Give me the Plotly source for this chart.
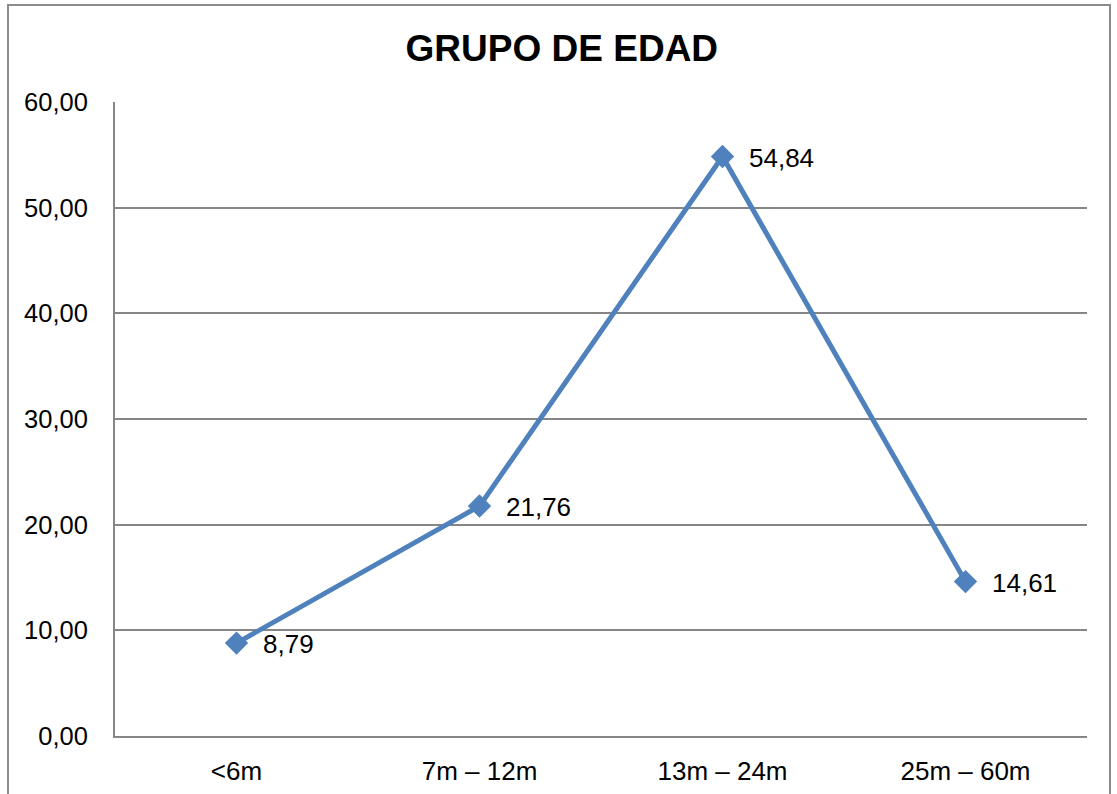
import plotly.graph_objects as go

categories = ["<6m", "7m – 12m", "13m – 24m", "25m – 60m"]
values = [8.79, 21.76, 54.84, 14.61]
labels = ["8,79", "21,76", "54,84", "14,61"]

W, H = 1117, 794
L, R, T, B = 115, 30, 102, 58
pw = W - L - R
ph = H - T - B

FONT = "Liberation Sans, Arial"

fig = go.Figure()
fig.add_trace(go.Scatter(
    x=categories, y=values, mode="lines+markers",
    line=dict(color="#4F81BD", width=5),
    marker=dict(symbol="diamond", size=18, color="#4F81BD"),
    showlegend=False, hoverinfo="skip",
))
for c, v, t in zip(categories, values, labels):
    fig.add_annotation(x=c, y=v, text=t, showarrow=False, xanchor="left",
                       xshift=24, yshift=-1,
                       font=dict(family=FONT, size=26, color="#000"))

def px2paper_x(px):
    return (px - L) / pw

def px2paper_y(py):
    return (H - B - py) / ph

fig.add_shape(type="rect", xref="paper", yref="paper",
              x0=px2paper_x(8), x1=px2paper_x(1110),
              y0=px2paper_y(820), y1=px2paper_y(5),
              line=dict(color="#8C8C8C", width=2), fillcolor="rgba(0,0,0,0)", layer="below")

fig.update_layout(
    width=W, height=H,
    margin=dict(l=L, r=R, t=T, b=B, autoexpand=False),
    paper_bgcolor="white", plot_bgcolor="white",
    separators=",.",
    title=dict(text="<b>GRUPO DE EDAD</b>", x=0.503, xref="container", xanchor="center",
               y=1 - 48 / H, yref="container", yanchor="middle",
               font=dict(family=FONT, size=37, color="#000")),
    font=dict(family=FONT, size=26, color="#000"),
)
fig.update_xaxes(type="category", range=[-0.5, 3.5], showgrid=False, zeroline=False,
                 showline=True, linecolor="#868686", linewidth=2, ticks="",
                 ticklabelstandoff=11, tickfont=dict(size=26))
fig.update_yaxes(range=[0, 60], dtick=10, tickformat=".2f", showgrid=True,
                 gridcolor="#868686", gridwidth=1.5, zeroline=False,
                 showline=True, linecolor="#868686", linewidth=2, ticks="",
                 ticklabelstandoff=20, tickfont=dict(size=25.5), mirror=False)

fig.write_html("out.html", config={"displayModeBar": False},
               post_script="document.body.style.margin='0';document.body.style.overflow='hidden';")
